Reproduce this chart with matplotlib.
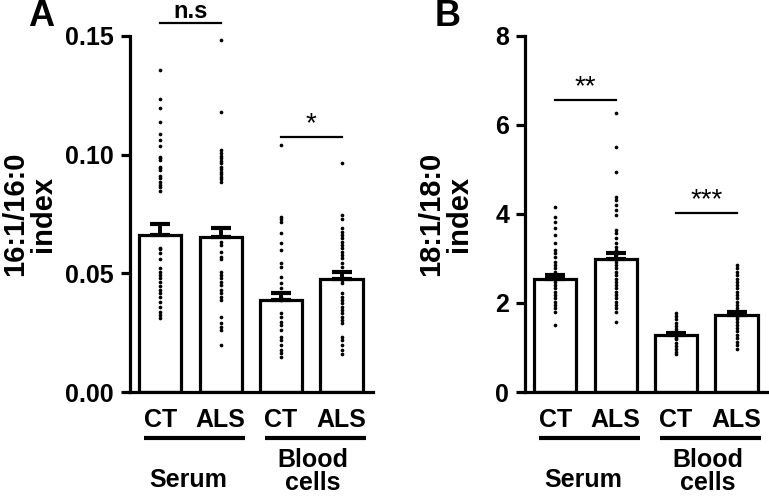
import matplotlib.pyplot as plt

plt.rcParams["font.family"] = ["Liberation Sans", "DejaVu Sans"]

GROUPS = ["CT", "ALS", "CT", "ALS"]
TISSUES = ["Serum", "Blood\ncells"]

# Panel A: 16:1/16:0 index
A_MEANS = [0.0661, 0.0653, 0.0388, 0.0475]
A_SEMS = [0.0047, 0.0040, 0.0030, 0.0029]
A_DOTS = [
    [0.1356, 0.1236, 0.1197, 0.1138, 0.1086, 0.1061, 0.1036, 0.0991, 0.0984, 0.0977,
     0.0949, 0.0942, 0.0935, 0.0911, 0.0900, 0.0885, 0.0871, 0.0862, 0.0847, 0.0606,
     0.0601, 0.0584, 0.0559, 0.0521, 0.0506, 0.0493, 0.0479, 0.0464, 0.0446, 0.0429,
     0.0416, 0.0399, 0.0380, 0.0359, 0.0338, 0.0324, 0.0310],
    [0.1485, 0.1178, 0.1019, 0.1005, 0.0994, 0.0984, 0.0974, 0.0963, 0.0949, 0.0938,
     0.0928, 0.0918, 0.0907, 0.0897, 0.0885, 0.0633, 0.0619, 0.0591, 0.0570, 0.0559,
     0.0506, 0.0493, 0.0479, 0.0464, 0.0450, 0.0429, 0.0416, 0.0401, 0.0387, 0.0317,
     0.0289, 0.0275, 0.0261, 0.0198],
    [0.1040, 0.0738, 0.0727, 0.0717, 0.0668, 0.0626, 0.0598, 0.0542, 0.0528, 0.0485,
     0.0458, 0.0437, 0.0416, 0.0401, 0.0387, 0.0331, 0.0317, 0.0296, 0.0282, 0.0261,
     0.0233, 0.0219, 0.0198, 0.0177, 0.0163, 0.0149],
    [0.0963, 0.0745, 0.0731, 0.0689, 0.0675, 0.0661, 0.0647, 0.0633, 0.0619, 0.0605,
     0.0591, 0.0577, 0.0563, 0.0542, 0.0528, 0.0506, 0.0485, 0.0472, 0.0458, 0.0416,
     0.0401, 0.0387, 0.0373, 0.0359, 0.0345, 0.0331, 0.0317, 0.0303, 0.0289, 0.0233,
     0.0219, 0.0198, 0.0177, 0.0160],
]

# Panel B: 18:1/18:0 index
B_MEANS = [2.53, 2.99, 1.28, 1.73]
B_SEMS = [0.10, 0.14, 0.05, 0.07]
B_DOTS = [
    [4.16, 3.94, 3.83, 3.68, 3.53, 3.34, 3.19, 3.12, 3.04, 2.93, 2.85, 2.78, 2.70,
     2.63, 2.55, 2.48, 2.40, 2.33, 2.25, 2.18, 2.11, 2.03, 1.96, 1.88, 1.80, 1.51],
    [6.26, 5.50, 4.95, 4.39, 4.31, 4.20, 4.09, 3.98, 3.64, 3.57, 3.45, 3.34, 3.26,
     3.19, 3.08, 3.00, 2.93, 2.85, 2.78, 2.70, 2.63, 2.55, 2.48, 2.40, 2.33, 2.25,
     2.18, 2.11, 2.03, 1.96, 1.88, 1.80, 1.58],
    [1.78, 1.71, 1.63, 1.56, 1.48, 1.41, 1.36, 1.33, 1.30, 1.26, 1.22, 1.18, 1.11,
     1.03, 0.96, 0.91, 0.85],
    [2.85, 2.78, 2.70, 2.63, 2.55, 2.48, 2.40, 2.33, 2.25, 2.18, 2.11, 2.03, 1.96,
     1.88, 1.80, 1.76, 1.73, 1.69, 1.65, 1.58, 1.51, 1.43, 1.36, 1.28, 1.21, 1.13,
     1.06, 0.96],
]


def draw_panel(ax, means, sems, dots, ylim, yticks, fmt, sigs):
    xs = list(range(len(means)))
    ax.bar(xs, means, width=0.7, color="white", edgecolor="black", linewidth=2.3, zorder=2)
    ax.errorbar(xs, means, yerr=[[0] * len(sems), sems], fmt="none", ecolor="black",
                elinewidth=2.8, capsize=7, capthick=3, zorder=3)
    for x, vals in zip(xs, dots):
        ax.scatter([x] * len(vals), vals, s=7, color="black", zorder=4, linewidths=0)

    ax.set_xlim(-0.5, 3.52)
    ax.set_ylim(*ylim)
    ax.set_yticks(yticks, [fmt.format(v) for v in yticks])
    ax.set_xticks([])
    ax.spines[["top", "right"]].set_visible(False)
    ax.spines[["left", "bottom"]].set_linewidth(2.3)
    ax.tick_params(axis="y", length=6.5, width=2.3, labelsize=18, pad=5)
    for lab in ax.get_yticklabels():
        lab.set_fontweight("bold")

    tr = ax.get_xaxis_transform()
    for x, name in zip(xs, GROUPS):
        ax.text(x, -0.079, name, transform=tr, ha="center", va="center",
                fontsize=18, fontweight="bold")
    for i in range(len(TISSUES)):
        x0 = xs[2 * i]
        ax.plot([x0 - 0.27, x0 + 1.4], [-0.129, -0.129], transform=tr, color="black",
                linewidth=3, clip_on=False, solid_capstyle="butt")
    ax.text(0.46, -0.247, TISSUES[0], transform=tr, ha="center", va="center",
            fontsize=18, fontweight="bold")
    ax.text(2.53, -0.222, TISSUES[1], transform=tr, ha="center", va="center",
            fontsize=18, fontweight="bold", linespacing=0.95)

    for x0, x1, y, label, weight, size in sigs:
        ax.plot([x0, x1], [y, y], color="black", linewidth=1.6, clip_on=False)
        ax.text((x0 + x1) / 2, y, label, ha="center", va="bottom", fontsize=size,
                fontweight=weight, clip_on=False)


fig = plt.figure(figsize=(7.69, 4.96), dpi=100, facecolor="white")
ax_a = fig.add_axes([130 / 769, 1 - 392 / 496, 243 / 769, 356 / 496])
ax_b = fig.add_axes([525 / 769, 1 - 392 / 496, 243 / 769, 356 / 496])

draw_panel(ax_a, A_MEANS, A_SEMS, A_DOTS, (0, 0.15), [0.0, 0.05, 0.10, 0.15], "{:.2f}",
           [(0, 1, 0.1554, "n.s", "bold", 17), (2, 3, 0.1074, "*", "normal", 20)])
draw_panel(ax_b, B_MEANS, B_SEMS, B_DOTS, (0, 8), [0, 2, 4, 6, 8], "{:.0f}",
           [(0, 1, 6.56, "**", "normal", 20), (2, 3, 4.02, "***", "normal", 20)])

fig.text(29 / 769, 1 - 214 / 496, "16:1/16:0\nindex", rotation=90, ha="center",
         va="center", fontsize=21, fontweight="bold", linespacing=1.0)
fig.text(445 / 769, 1 - 214 / 496, "18:1/18:0\nindex", rotation=90, ha="center",
         va="center", fontsize=21, fontweight="bold", linespacing=1.0)
fig.text(41 / 769, 1 - 17 / 496, "A", ha="center", va="center", fontsize=26, fontweight="bold")
fig.text(448 / 769, 1 - 16 / 496, "B", ha="center", va="center", fontsize=26, fontweight="bold")

fig.savefig("out.png", dpi=100)
